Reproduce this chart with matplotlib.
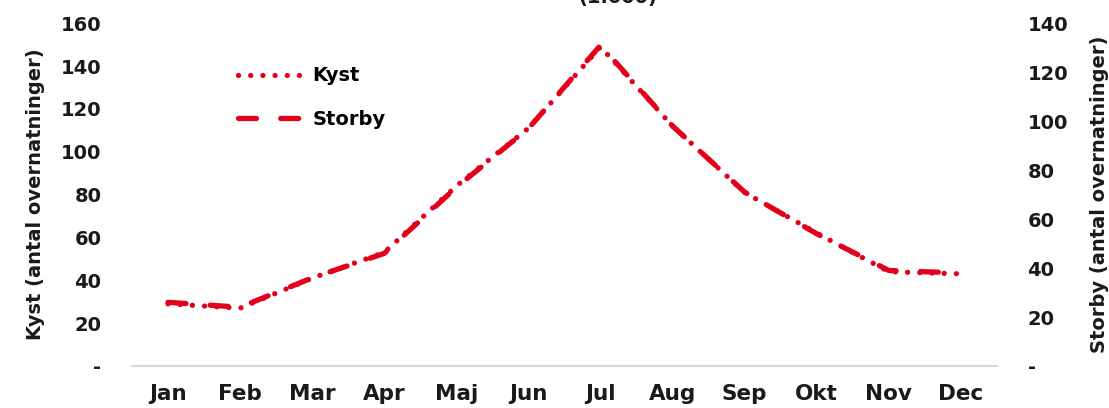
import matplotlib
matplotlib.use('Agg')
import matplotlib.pyplot as plt
from matplotlib.ticker import FuncFormatter

plt.rcParams['font.family'] = ['DejaVu Sans']
plt.rcParams['font.weight'] = 'bold'

months = ['Jan', 'Feb', 'Mar', 'Apr', 'Maj', 'Jun', 'Jul', 'Aug', 'Sep', 'Okt', 'Nov', 'Dec']
kyst = [29, 27, 41, 53, 84, 111, 149, 112, 81, 62, 44, 43]
storby = [26, 24, 36, 46, 73, 97, 131, 98, 71, 54, 39, 38]

red = '#e2001a'
txt = '#1a1a1a'
fs = 14

fig = plt.figure(figsize=(11.09, 4.08), dpi=100)
ax = fig.add_axes([0.119, 0.103, 0.780, 0.840])
ax2 = ax.twinx()

x = range(len(months))
l1, = ax.plot(x, kyst, color=red, lw=3.8, linestyle=(0, (0.01, 2.3)),
              dash_capstyle='round', label='Kyst', zorder=3)
l2, = ax2.plot(x, storby, color=red, lw=3.8, linestyle=(0, (3.4, 4.6)),
               dash_capstyle='round', label='Storby', zorder=2)

ax.set_xlim(-0.5, len(months) - 0.5)
ax.set_ylim(0, 160)
ax2.set_ylim(0, 140)
ax.set_yticks(range(0, 161, 20))
ax2.set_yticks(range(0, 141, 20))
ax.set_xticks(list(x))
ax.set_xticklabels(months)

dash0 = FuncFormatter(lambda v, p: '-' if v == 0 else f'{v:.0f}')
ax.yaxis.set_major_formatter(dash0)
ax2.yaxis.set_major_formatter(dash0)

for a in (ax, ax2):
    for s in a.spines.values():
        s.set_visible(False)
    a.tick_params(length=0, labelsize=fs, labelcolor=txt)
ax.spines['bottom'].set_visible(True)
ax.spines['bottom'].set_color('#d9d9d9')
ax.spines['bottom'].set_linewidth(1.5)
ax.tick_params(axis='x', pad=13, labelsize=15.5)
ax.tick_params(axis='y', pad=22)
ax2.tick_params(axis='y', pad=22)

ax.set_ylabel('Kyst (antal overnatninger)', fontsize=fs, color=txt, fontweight='bold')
ax2.set_ylabel('Storby (antal overnatninger)', fontsize=fs, color=txt, fontweight='bold')
ax.yaxis.set_label_coords(-0.112, 0.5)
ax2.yaxis.set_label_coords(1.118, 0.5)
ax.yaxis.label.set_va('center')
ax2.yaxis.label.set_va('center')

ax.legend(handles=[l1, l2], loc='upper left', bbox_to_anchor=(0.102, 0.925),
          frameon=False, fontsize=fs, handlelength=3.3, labelspacing=1.25,
          handletextpad=0.55)

fig.text(0.557, 1 - 3.5 / 408, '(1.000)', ha='center', va='baseline', fontsize=fs,
         color=txt)

fig.savefig('out.png', dpi=100)
